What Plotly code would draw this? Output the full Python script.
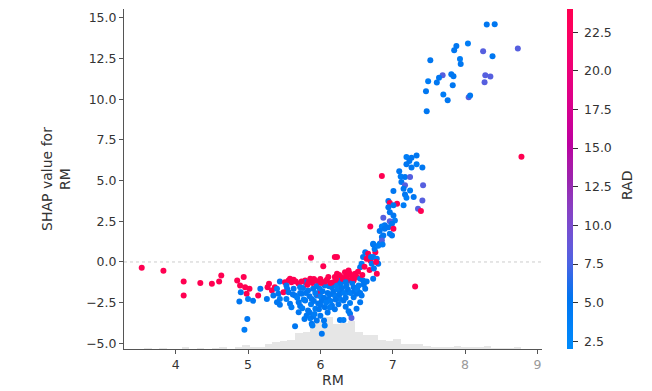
import numpy as np
import plotly.graph_objects as go

# ---------------- data ----------------
points = [
    # left sparse tail (RM, SHAP, RAD)
    (3.53, -0.36, 24), (3.83, -0.54, 24), (4.11, -1.20, 24), (4.11, -2.06, 24),
    (4.34, -1.30, 24), (4.50, -1.34, 24), (4.60, -1.20, 24), (4.63, -0.83, 24),
    # 4.8 - 5.6
    (4.85, -1.14, 24), (4.94, -0.93, 24), (4.89, -1.45, 24), (4.96, -1.55, 24),
    (5.02, -1.65, 24), (4.98, -1.96, 24), (4.90, -1.86, 5), (4.88, -2.43, 5),
    (5.00, -2.27, 4), (5.07, -2.39, 5), (5.17, -1.65, 5), (5.14, -2.06, 24),
    (4.99, -3.50, 5), (4.95, -4.17, 4), (5.26, -2.27, 5), (5.27, -1.55, 24),
    (5.29, -1.34, 24), (5.33, -1.75, 24), (5.37, -1.55, 24), (5.44, -1.20, 5),
    (5.51, -1.24, 24), (5.40, -1.65, 4), (5.35, -2.06, 5), (5.42, -1.96, 5),
    (5.44, -2.27, 4), (5.40, -2.47, 5), (5.44, -2.63, 5), (5.54, -1.65, 5),
    (5.53, -2.27, 4), (5.49, -1.86, 24), (5.56, -1.14, 24),
    # 5.5 - 6.2
    (5.87, 0.26, 24), (6.04, -0.26, 24), (6.20, 0.30, 24), (5.58, -1.03, 24),
    (5.60, -1.24, 24), (5.70, -1.34, 24), (5.79, -1.14, 24), (5.86, -1.03, 24),
    (5.93, -1.14, 24), (5.97, -1.24, 24), (6.11, -0.93, 24), (6.18, -1.24, 24),
    (6.20, -0.93, 24), (5.53, -1.45, 5), (5.63, -1.65, 5), (5.72, -1.55, 4),
    (5.56, -1.86, 5), (5.65, -2.06, 5), (5.74, -1.96, 4), (5.83, -1.75, 5),
    (5.90, -1.65, 5), (5.99, -1.65, 4), (6.06, -1.45, 5), (6.16, -1.55, 5),
    (6.23, -1.45, 4), (5.79, -2.37, 5), (5.88, -2.27, 5), (5.95, -2.06, 4),
    (6.02, -2.37, 5), (6.11, -2.27, 5), (6.20, -2.06, 4), (5.58, -2.57, 5),
    (5.70, -2.47, 5), (5.60, -2.78, 4), (5.70, -3.09, 5), (5.83, -2.98, 5),
    (5.93, -2.88, 4), (6.06, -2.78, 5), (6.16, -2.68, 5), (5.81, -3.29, 5),
    (5.86, -3.46, 4), (5.90, -3.35, 5), (5.95, -3.60, 5), (5.88, -3.80, 5),
    (6.06, -3.91, 4), (6.02, -4.42, 5), (5.65, -3.95, 5), (5.79, -1.24, 5),
    (5.97, -1.96, 24),
    # 6.2 - 6.9
    (6.85, 1.53, 5), (6.82, 1.12, 4), (6.73, 1.08, 5), (6.23, 0.30, 24),
    (6.62, 0.60, 5), (6.66, 0.50, 24), (6.76, 0.60, 24), (6.59, 0.30, 5),
    (6.64, 0.20, 24), (6.69, 0.09, 24), (6.73, 0.30, 5), (6.78, 0.20, 4),
    (6.80, -0.11, 5), (6.71, -0.11, 5), (6.57, -0.11, 4), (6.55, -0.32, 5),
    (6.78, -0.73, 24), (6.73, -1.03, 5), (6.39, -0.52, 24), (6.41, -0.73, 24),
    (6.48, -0.73, 24), (6.50, -0.93, 24), (6.34, -0.63, 24), (6.29, -0.93, 24),
    (6.23, -0.73, 24), (6.25, -1.14, 5), (6.32, -1.14, 4), (6.39, -1.14, 24),
    (6.46, -1.14, 24), (6.55, -1.03, 5), (6.59, -1.14, 5), (6.27, -1.45, 4),
    (6.36, -1.45, 5), (6.46, -1.55, 5), (6.53, -1.45, 4), (6.62, -1.65, 5),
    (6.29, -1.86, 5), (6.39, -1.86, 4), (6.50, -1.96, 5), (6.57, -2.06, 5),
    (6.27, -2.27, 4), (6.32, -2.37, 5), (6.46, -2.17, 5), (6.55, -2.47, 5),
    (6.41, -2.53, 4), (6.50, -2.88, 5), (6.39, -3.03, 5), (6.41, -3.19, 5),
    (6.43, -3.44, 8), (6.27, -3.56, 5), (6.32, -3.56, 4),
    # extra points in the dense cloud
    (5.62, -2.00, 5), (5.68, -2.20, 4), (5.72, -2.70, 5), (5.77, -2.30, 4),
    (5.80, -1.90, 5), (5.85, -2.10, 5), (5.87, -2.60, 4), (5.91, -2.40, 5),
    (5.93, -1.90, 4), (5.97, -2.55, 5), (6.00, -2.10, 4), (6.03, -1.80, 5),
    (6.05, -2.20, 5), (6.08, -2.50, 4), (6.10, -1.90, 5), (6.13, -2.00, 5),
    (6.14, -2.40, 4), (6.18, -1.80, 5), (6.21, -2.30, 5), (6.24, -1.70, 4),
    (6.26, -2.00, 5), (6.30, -1.60, 5), (6.33, -1.90, 4), (6.35, -2.20, 5),
    (6.38, -1.70, 5), (6.42, -1.90, 4), (6.44, -1.30, 5), (6.47, -1.80, 5),
    (6.51, -1.70, 4), (6.55, -1.90, 5), (6.60, -1.40, 5), (6.64, -1.20, 5),
    (5.76, -1.60, 5), (5.82, -1.40, 24), (5.89, -1.30, 24), (5.95, -1.50, 5),
    (6.01, -1.30, 24), (6.07, -1.20, 24), (6.12, -1.50, 5), (6.22, -1.10, 24),
    (6.28, -1.30, 5), (5.66, -1.20, 24), (5.72, -1.90, 5), (5.85, -3.10, 5),
    (5.92, -3.20, 4), (5.98, -2.90, 5), (6.10, -3.10, 5), (6.13, -2.80, 4),
    (6.20, -2.90, 5), (5.78, -3.50, 5), (6.00, -3.30, 5), (5.89, -3.90, 4),
    (6.05, -3.60, 5), (6.45, -1.00, 24), (6.52, -0.60, 24), (6.58, -0.80, 24),
    (6.61, -0.30, 24), (6.68, -0.50, 24), (6.70, 0.30, 5), (6.74, -0.40, 5),
    (6.77, 0.00, 24), (6.75, 0.80, 5), (6.80, 1.00, 4),
    (5.63, -1.10, 24), (5.74, -1.20, 24), (5.84, -1.25, 24), (5.91, -1.05, 24),
    (6.00, -1.05, 24), (6.09, -1.10, 24), (6.14, -1.30, 24), (6.26, -0.80, 24),
    (6.31, -1.05, 24), (6.36, -0.90, 24), (6.43, -0.85, 24), (6.35, -1.25, 5),
    (6.00, -2.65, 5), (5.75, -2.85, 4), (6.25, -2.60, 5), (6.35, -2.75, 5),
    # rising part 6.7 - 7.45
    (7.33, 6.55, 5), (7.26, 6.41, 5), (7.19, 6.45, 4), (7.23, 6.20, 5),
    (7.19, 6.00, 5), (7.33, 6.00, 4), (7.26, 5.80, 5), (7.41, 5.80, 5),
    (6.85, 5.28, 24), (7.09, 5.57, 5), (7.11, 5.26, 4), (7.17, 5.22, 5),
    (7.24, 5.22, 8), (7.12, 4.91, 5), (7.17, 4.71, 8), (7.15, 4.50, 5),
    (7.24, 4.40, 4), (7.42, 4.71, 8), (7.01, 4.36, 5), (7.17, 4.15, 5),
    (7.29, 3.99, 5), (7.19, 3.95, 4), (7.41, 3.78, 8), (6.94, 3.74, 5),
    (6.96, 3.62, 24), (7.06, 3.58, 24), (7.01, 3.48, 5), (7.15, 3.48, 4),
    (6.94, 3.37, 5), (7.35, 3.27, 8), (7.39, 3.13, 24), (6.96, 3.06, 5),
    (7.01, 2.86, 5), (6.87, 2.72, 8), (7.03, 2.55, 4), (6.96, 2.51, 8),
    (6.99, 2.35, 5), (6.89, 2.25, 5), (6.85, 2.18, 4), (6.94, 2.14, 5),
    (7.01, 2.04, 24), (6.89, 2.04, 5), (6.82, 1.90, 5), (6.96, 1.74, 4),
    (6.87, 1.63, 5), (6.99, 1.63, 5), (6.85, 1.32, 8), (6.73, 1.12, 5),
    (6.86, 1.08, 4), (6.69, 2.18, 24), (7.31, -1.51, 24),
    # top cluster
    (8.30, 14.60, 5), (8.41, 14.62, 5), (7.88, 13.28, 5), (8.04, 13.43, 4),
    (7.85, 13.02, 5), (8.25, 12.95, 8), (8.73, 13.12, 8), (8.38, 12.65, 5),
    (7.52, 12.40, 5), (7.93, 12.48, 4), (7.94, 12.17, 5), (7.81, 11.54, 5),
    (7.84, 11.42, 5), (7.69, 11.48, 8), (7.64, 11.33, 5), (7.49, 11.11, 4),
    (7.61, 11.03, 5), (8.28, 11.48, 8), (8.35, 11.40, 8), (8.27, 11.05, 8),
    (7.83, 10.86, 5), (7.46, 10.49, 5), (7.70, 10.29, 4), (7.76, 9.94, 5),
    (8.05, 10.12, 8), (8.07, 10.23, 5), (7.47, 9.26, 5), (8.78, 6.47, 24),
]
rm = [p[0] for p in points]
shap_rm = [p[1] for p in points]
rad = [p[2] for p in points]

# histogram of RM (50 bins over the RM range), counts
hist_lo, hist_hi, hist_nbins = 3.561, 8.78, 50
hist_counts = [1, 0, 1, 0, 0, 2, 0, 1, 0, 1,
               2, 0, 3, 6, 2, 3, 7, 10, 12, 13,
               24, 25, 40, 41, 48, 37, 38, 42, 25, 21,
               21, 13, 12, 15, 8, 8, 8, 4, 3, 3,
               3, 5, 3, 2, 3, 4, 1, 1, 1, 3]
n_samples = 506

y_ticks = [-5.0, -2.5, 0.0, 2.5, 5.0, 7.5, 10.0, 12.5, 15.0]
y_ticklabels = ["\u22125.0", "\u22122.5", "0.0", "2.5", "5.0", "7.5", "10.0", "12.5", "15.0"]
x_ticks = [4, 5, 6, 7, 8, 9]
x_ticklabels = ["4", "5", "6", "7", "<span style='color:#9a9a9a'>8</span>",
                "<span style='color:#9a9a9a'>9</span>"]
cb_ticks = [2.5, 5.0, 7.5, 10.0, 12.5, 15.0, 17.5, 20.0, 22.5]
cb_ticklabels = [" 2.5", " 5.0", " 7.5", " 10.0", " 12.5", " 15.0", " 17.5", " 20.0", " 22.5"]


# ---------------- shap red_blue colormap (LCH interpolation) ----------------
def lch2rgb(L, C, H):
    a, b = C * np.cos(H), C * np.sin(H)
    fy = (L + 16) / 116.0
    fx, fz = fy + a / 500.0, fy - b / 200.0

    def finv(t):
        return t ** 3 if t > 0.2068966 else (t - 16 / 116.0) / 7.787

    X, Y, Z = 0.95047 * finv(fx), 1.0 * finv(fy), 1.08883 * finv(fz)
    M = np.array([[3.2404542, -1.5371385, -0.4985314],
                  [-0.9692660, 1.8760108, 0.0415560],
                  [0.0556434, -0.2040259, 1.0572252]])
    lin = M @ np.array([X, Y, Z])
    out = []
    for c in lin:
        c = 1.055 * c ** (1 / 2.4) - 0.055 if c > 0.0031308 else 12.92 * c
        out.append(int(round(min(max(c, 0), 1) * 255)))
    return "rgb(%d,%d,%d)" % tuple(out)


nsteps = 21
l_vals = list(np.linspace(54., 40., nsteps // 2 + 1)) + list(np.linspace(40., 54., nsteps // 2 + 1))[1:]
c_vals = np.linspace(70., 90., nsteps)
h_vals = np.linspace(4.6588, 0.35470565 + 2 * np.pi, nsteps)
colorscale = [[float(p), lch2rgb(l, c, h)] for p, l, c, h in
              zip(np.linspace(0, 1, nsteps), l_vals, c_vals, h_vals)]

# ---------------- figure ----------------
bin_w = (hist_hi - hist_lo) / hist_nbins
bin_centers = [hist_lo + bin_w * (i + 0.5) for i in range(hist_nbins)]

fig = go.Figure()
fig.add_trace(go.Bar(
    x=bin_centers, y=hist_counts, width=bin_w, yaxis="y",
    marker=dict(color="#e6e6e6", line=dict(width=0)), hoverinfo="skip",
    showlegend=False,
))
fig.add_trace(go.Scatter(
    x=rm, y=shap_rm, yaxis="y2", mode="markers", showlegend=False,
    marker=dict(size=6, color=rad, colorscale=colorscale, cmin=2, cmax=24,
                line=dict(width=0), showscale=True,
                colorbar=dict(x=1.0598, xanchor="left", xpad=0, y=0.5, yanchor="middle",
                              ypad=0, len=1, lenmode="fraction", thickness=6,
                              outlinewidth=0, ticks="outside", ticklen=5,
                              tickcolor="#333333", tickvals=cb_ticks,
                              ticktext=cb_ticklabels,
                              tickfont=dict(size=12.5, color="#333333",
                                            family="DejaVu Sans"))),
))

axis_font = dict(family="DejaVu Sans", size=12.5, color="#333333")
fig.update_layout(
    width=652, height=391,
    margin=dict(l=124, r=110, t=9, b=42, autoexpand=False),
    paper_bgcolor="white", plot_bgcolor="white",
    font=dict(family="DejaVu Sans", color="#333333"),
    bargap=0,
    xaxis=dict(range=[3.285, 9.064], showgrid=False, zeroline=False, automargin=False,
               showline=True, linecolor="#555555", linewidth=1,
               ticks="outside", ticklen=4, tickcolor="#555555",
               tickvals=x_ticks, ticktext=x_ticklabels, tickfont=axis_font,
               title=dict(text="RM", font=dict(size=14, color="#333333"), standoff=4)),
    yaxis=dict(range=[0, n_samples], visible=False, fixedrange=True, automargin=False),
    yaxis2=dict(range=[-5.35, 15.55], overlaying="y", side="left", automargin=False,
                showgrid=False, zeroline=False,
                showline=True, linecolor="#555555", linewidth=1,
                ticks="outside", ticklen=4, tickcolor="#555555",
                tickvals=y_ticks, ticktext=y_ticklabels, tickfont=axis_font,
                title=dict(text="SHAP value for<br>RM",
                           font=dict(size=14, color="#333333"), standoff=12)),
    shapes=[dict(type="line", xref="paper", x0=0, x1=1, yref="y2", y0=0, y1=0,
                 line=dict(color="#cccccc", width=1, dash="dot"), layer="below")],
    annotations=[dict(text="RAD", xref="paper", yref="paper", x=1.2033, y=0.482,
                      xanchor="center", yanchor="middle",
                      textangle=-90, showarrow=False,
                      font=dict(size=14, color="#333333", family="DejaVu Sans"))],
)

fig.write_html("out.html", config={"displayModeBar": False},
               post_script="document.body.style.margin='0px';document.body.style.overflow='hidden';")
